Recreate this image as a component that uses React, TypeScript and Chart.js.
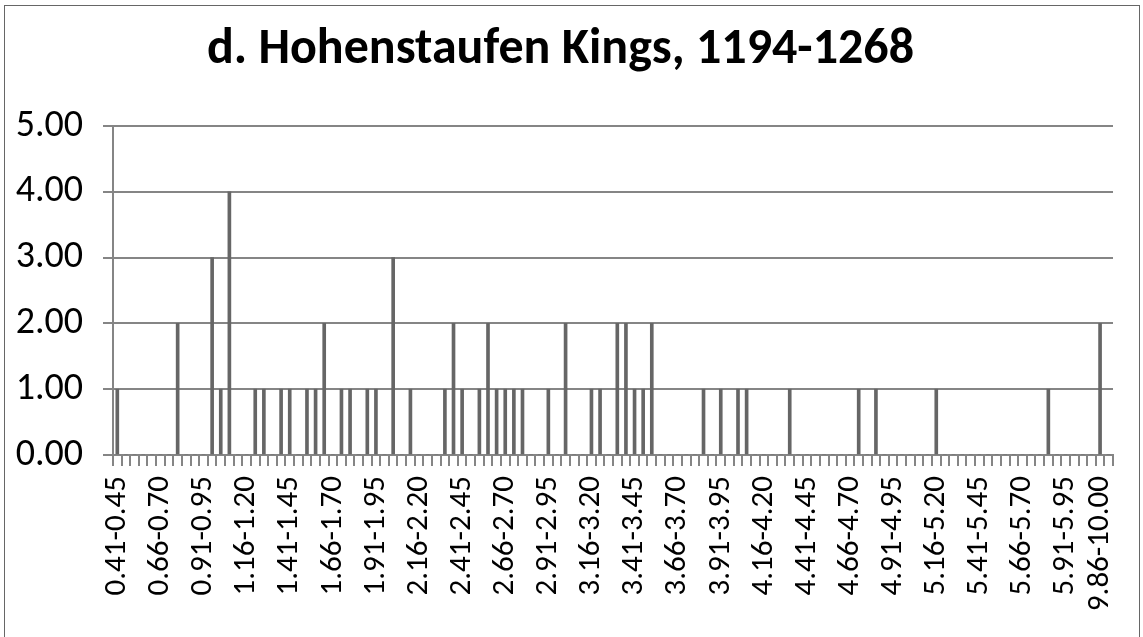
import React, { useEffect, useRef } from "react";
import { Chart, registerables } from "chart.js";

Chart.register(...registerables);

const title = "d. Hohenstaufen Kings, 1194-1268";

const categories: string[] = [
  "0.41-0.45", "0.46-0.50", "0.51-0.55", "0.56-0.60", "0.61-0.65", "0.66-0.70", "0.71-0.75", "0.76-0.80", "0.81-0.85", "0.86-0.90",
  "0.91-0.95", "0.96-1.00", "1.01-1.05", "1.06-1.10", "1.11-1.15", "1.16-1.20", "1.21-1.25", "1.26-1.30", "1.31-1.35", "1.36-1.40",
  "1.41-1.45", "1.46-1.50", "1.51-1.55", "1.56-1.60", "1.61-1.65", "1.66-1.70", "1.71-1.75", "1.76-1.80", "1.81-1.85", "1.86-1.90",
  "1.91-1.95", "1.96-2.00", "2.01-2.05", "2.06-2.10", "2.11-2.15", "2.16-2.20", "2.21-2.25", "2.26-2.30", "2.31-2.35", "2.36-2.40",
  "2.41-2.45", "2.46-2.50", "2.51-2.55", "2.56-2.60", "2.61-2.65", "2.66-2.70", "2.71-2.75", "2.76-2.80", "2.81-2.85", "2.86-2.90",
  "2.91-2.95", "2.96-3.00", "3.01-3.05", "3.06-3.10", "3.11-3.15", "3.16-3.20", "3.21-3.25", "3.26-3.30", "3.31-3.35", "3.36-3.40",
  "3.41-3.45", "3.46-3.50", "3.51-3.55", "3.56-3.60", "3.61-3.65", "3.66-3.70", "3.71-3.75", "3.76-3.80", "3.81-3.85", "3.86-3.90",
  "3.91-3.95", "3.96-4.00", "4.01-4.05", "4.06-4.10", "4.11-4.15", "4.16-4.20", "4.21-4.25", "4.26-4.30", "4.31-4.35", "4.36-4.40",
  "4.41-4.45", "4.46-4.50", "4.51-4.55", "4.56-4.60", "4.61-4.65", "4.66-4.70", "4.71-4.75", "4.76-4.80", "4.81-4.85", "4.86-4.90",
  "4.91-4.95", "4.96-5.00", "5.01-5.05", "5.06-5.10", "5.11-5.15", "5.16-5.20", "5.21-5.25", "5.26-5.30", "5.31-5.35", "5.36-5.40",
  "5.41-5.45", "5.46-5.50", "5.51-5.55", "5.56-5.60", "5.61-5.65", "5.66-5.70", "5.71-5.75", "5.76-5.80", "5.81-5.85", "5.86-5.90",
  "5.91-5.95", "5.96-6.00", "6.01-6.05", "6.06-6.10", "9.86-10.00", ">10.00",
];

const counts: number[] = [
  1, 0, 0, 0, 0, 0, 0, 2, 0, 0,
  0, 3, 1, 4, 0, 0, 1, 1, 0, 1,
  1, 0, 1, 1, 2, 0, 1, 1, 0, 1,
  1, 0, 3, 0, 1, 0, 0, 0, 1, 2,
  1, 0, 1, 2, 1, 1, 1, 1, 0, 0,
  1, 0, 2, 0, 0, 1, 1, 0, 2, 2,
  1, 1, 2, 0, 0, 0, 0, 0, 1, 0,
  1, 0, 1, 1, 0, 0, 0, 0, 1, 0,
  0, 0, 0, 0, 0, 0, 1, 0, 1, 0,
  0, 0, 0, 0, 0, 1, 0, 0, 0, 0,
  0, 0, 0, 0, 0, 0, 0, 0, 1, 0,
  0, 0, 0, 0, 2, 0,
];

const tickLabels: string[] = [
  "0.41-0.45", "0.66-0.70", "0.91-0.95", "1.16-1.20", "1.41-1.45", "1.66-1.70",
  "1.91-1.95", "2.16-2.20", "2.41-2.45", "2.66-2.70", "2.91-2.95", "3.16-3.20",
  "3.41-3.45", "3.66-3.70", "3.91-3.95", "4.16-4.20", "4.41-4.45", "4.66-4.70",
  "4.91-4.95", "5.16-5.20", "5.41-5.45", "5.66-5.70", "5.91-5.95", "9.86-10.00",
];

const yTicks: number[] = [0, 1, 2, 3, 4, 5];

const FONT = "Carlito, Calibri, Lato, sans-serif";
const GRID = "#858585";

export default function App() {
  const ref = useRef<HTMLCanvasElement | null>(null);

  useEffect(() => {
    if (!ref.current) return;
    const chart = new Chart(ref.current, {
      type: "bar",
      data: {
        labels: categories,
        datasets: [
          {
            data: counts,
            backgroundColor: "#666666",
            borderWidth: 0,
            barThickness: 3,
          },
        ],
      },
      options: {
        responsive: false,
        animation: false,
        devicePixelRatio: 1,
        layout: { padding: { left: 8, right: 30, top: 0, bottom: 0 } },
        plugins: {
          legend: { display: false },
          tooltip: { enabled: false },
          title: {
            display: true,
            text: title,
            color: "#000",
            font: { family: FONT, size: 50, weight: "bold", lineHeight: 1.2 },
            padding: { top: 20, bottom: 46 },
          },
        },
        scales: {
          x: {
            type: "category",
            offset: true,
            grid: {
              display: true,
              offset: true,
              drawOnChartArea: false,
              drawTicks: true,
              tickLength: 11,
              color: GRID,
              lineWidth: 2,
            },
            border: { display: true, color: GRID, width: 2 },
            ticks: {
              autoSkip: false,
              maxRotation: 90,
              minRotation: 90,
              padding: 10,
              color: "#000",
              font: { family: FONT, size: 31 },
              callback: (_v: any, i: number) =>
                tickLabels.includes(categories[i]) ? categories[i] : "",
            },
            afterFit: (s: any) => {
              s.height = 182;
              s.paddingLeft = 0;
              s.paddingRight = 0;
            },
          },
          y: {
            min: 0,
            max: 5,
            afterBuildTicks: (s: any) => {
              s.ticks = yTicks.map((v) => ({ value: v }));
            },
            grid: {
              color: GRID,
              lineWidth: 2,
              drawTicks: true,
              tickLength: 10,
            },
            border: { display: true, color: GRID, width: 2 },
            ticks: {
              padding: 20,
              color: "#000",
              font: { family: FONT, size: 38 },
              callback: (v: any) => Number(v).toFixed(2),
            },
            afterFit: (s: any) => {
              s.width = 105;
              s.paddingTop = 0;
              s.paddingBottom = 0;
            },
          },
        },
      },
    });
    return () => chart.destroy();
  }, []);

  return (
    <div
      style={{
        position: "absolute",
        left: 0,
        top: 0,
        width: 1143,
        height: 637,
        overflow: "hidden",
        background: "#fff",
      }}
    >
      <canvas
        ref={ref}
        width={1143}
        height={637}
        style={{ position: "absolute", left: 0, top: 0, width: 1143, height: 637 }}
      />
      <div
        style={{
          position: "absolute",
          left: 4,
          top: 5,
          width: 1134,
          height: 700,
          border: "1.5px solid #666",
          pointerEvents: "none",
        }}
      />
    </div>
  );
}
